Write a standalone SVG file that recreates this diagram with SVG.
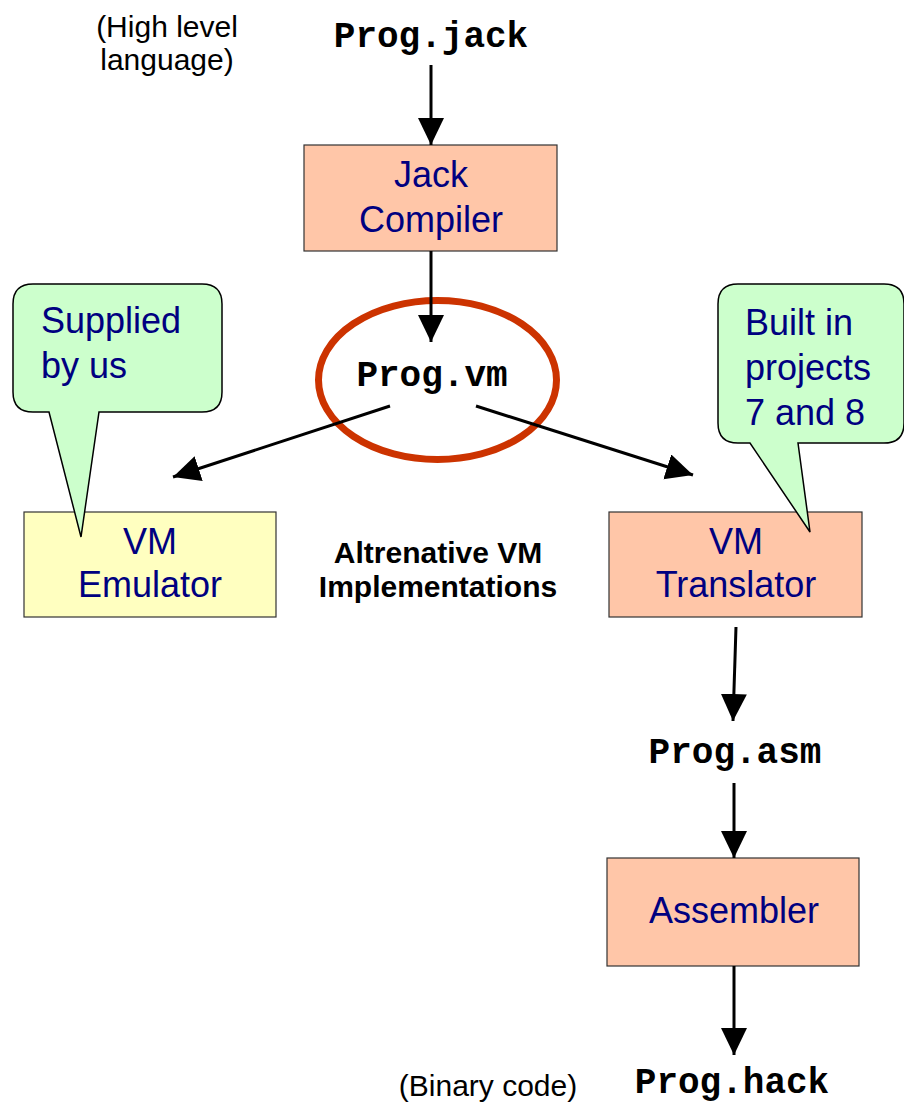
<svg xmlns="http://www.w3.org/2000/svg" width="904" height="1104" viewBox="0 0 904 1104">
<style>
.box{stroke:#333;stroke-width:1.2}
.tool{fill:#FFC6A8}
.emu{fill:#FFFFC0}
.call{fill:#CCFFCC;stroke:#000;stroke-width:1.5}
.lbl{font-family:"Liberation Sans",Arial,sans-serif;font-size:36px;fill:#000080;text-anchor:middle}
.calltxt{font-family:"Liberation Sans",Arial,sans-serif;font-size:36px;fill:#000080}
.file{font-family:"Liberation Mono","Courier New",monospace;font-weight:bold;font-size:36px;fill:#000;text-anchor:middle}
.note{font-family:"Liberation Sans",Arial,sans-serif;font-size:30px;fill:#000;text-anchor:middle}
.bold{font-family:"Liberation Sans",Arial,sans-serif;font-size:30px;font-weight:bold;fill:#000;text-anchor:middle}
.conn{stroke:#000;stroke-width:3;fill:none;marker-end:url(#ah)}
</style>
<defs>
<marker id="ah" markerUnits="userSpaceOnUse" markerWidth="28" markerHeight="28" viewBox="0 0 28 28" refX="27" refY="13" orient="auto">
<path d="M0,0 L27,13 L0,26 z" fill="#000"/>
</marker>
</defs>
<rect width="904" height="1104" fill="#fff"/>

<g id="note-high-level">
<text class="note" x="167" y="37">(High level</text>
<text class="note" x="167" y="70">language)</text>
</g>
<g id="prog-jack"><text class="file" x="431" y="47">Prog.jack</text></g>

<g id="jack-compiler">
<rect class="box tool" x="304" y="145" width="253" height="106"/>
<text class="lbl" x="431" y="187">Jack</text>
<text class="lbl" x="431" y="232">Compiler</text>
</g>

<g id="prog-vm">
<ellipse cx="437.5" cy="380" rx="119" ry="79.5" fill="none" stroke="#CC3300" stroke-width="7"/>
<text class="file" x="432" y="386">Prog.vm</text>
</g>

<g id="vm-emulator">
<rect class="box emu" x="24" y="512" width="252" height="105"/>
<text class="lbl" x="150" y="554">VM</text>
<text class="lbl" x="150" y="597">Emulator</text>
</g>

<g id="vm-translator">
<rect class="box tool" x="609" y="512" width="253" height="105"/>
<text class="lbl" x="736" y="554">VM</text>
<text class="lbl" x="736" y="597">Translator</text>
</g>

<g id="alt-label">
<text class="bold" x="438" y="563">Altrenative VM</text>
<text class="bold" x="438" y="597">Implementations</text>
</g>

<g id="prog-asm"><text class="file" x="735" y="763">Prog.asm</text></g>

<g id="assembler">
<rect class="box tool" x="607" y="858" width="252" height="108"/>
<text class="lbl" x="734" y="923">Assembler</text>
</g>

<g id="note-binary"><text class="note" x="488" y="1096">(Binary code)</text></g>
<g id="prog-hack"><text class="file" x="732" y="1093">Prog.hack</text></g>

<g id="callout-supplied">
<path class="call" d="M33,284 H202 Q222,284 222,304 V392 Q222,412 202,412 H99 L81,537 L49,412 H33 Q13,412 13,392 V304 Q13,284 33,284 Z"/>
<text class="calltxt" x="41" y="333">Supplied</text>
<text class="calltxt" x="41" y="378">by us</text>
</g>

<g id="callout-built">
<path class="call" d="M738,284 H884 Q904,284 904,304 V423 Q904,443 884,443 H798 L810,532 L750,443 H738 Q718,443 718,423 V304 Q718,284 738,284 Z"/>
<text class="calltxt" x="745" y="335">Built in</text>
<text class="calltxt" x="745" y="380">projects</text>
<text class="calltxt" x="745" y="425">7 and 8</text>
</g>

<g id="connectors">
<line class="conn" x1="431" y1="65" x2="431" y2="145"/>
<line class="conn" x1="431" y1="251" x2="431" y2="342"/>
<line class="conn" x1="390" y1="406" x2="173" y2="477"/>
<line class="conn" x1="476" y1="406" x2="693" y2="475"/>
<line class="conn" x1="736" y1="627" x2="733" y2="721"/>
<line class="conn" x1="734" y1="783" x2="734" y2="858"/>
<line class="conn" x1="734" y1="966" x2="734" y2="1055"/>
</g>
</svg>
